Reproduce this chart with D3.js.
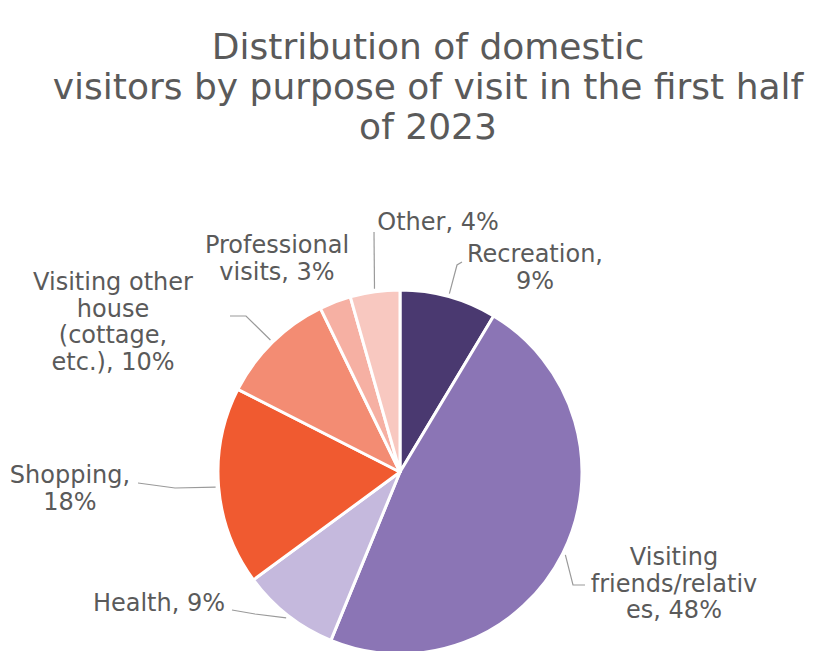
<!DOCTYPE html>
<html><head><meta charset="utf-8">
<script src="https://cdn.jsdelivr.net/npm/d3@7"></script>
<style>
body{margin:0;background:#fff}
svg{display:block}
text{font-family:"DejaVu Sans",sans-serif;fill:#5a5a5a}
</style>
</head><body><script>
// ---- data ----
const categories = ["Recreation","Visiting friends/relatives","Health","Shopping","Visiting other house (cottage, etc.)","Professional visits","Other"];
const values = [8.6, 47.6, 8.7, 17.6, 10.3, 2.8, 4.4];
const colors = ["#4a3970","#8b75b5","#c5b9dd","#f05a30","#f38c73","#f6b0a3","#f8c8c0"];
const titleLines = ["Distribution of domestic","visitors by purpose of visit in the first half","of 2023"];
const labelWraps = [["Recreation,","{p}%"],["Visiting","friends/relativ","es, {p}%"],["Health, {p}%"],["Shopping,","{p}%"],["Visiting other","house","(cottage,","etc.), {p}%"],["Professional","visits, {p}%"],["Other, {p}%"]];

// ---- layout ----
const W = 815, H = 651;
const cx = 400, cy = 472, R = 182;
const labelPos = [[535,262],[674,565],[159,611],[70,483],[113,290],[277,253],[438,230]];
const leaderPts = [[[457,265],[462,262]],[[573,585],[585,585]],[[255,614],[232,610]],[[175,488],[138,483]],[[246,316],[230,316]],null,[[374,232]]];

const svg = d3.select("body").append("svg").attr("width",W).attr("height",H);
svg.append("rect").attr("width",W).attr("height",H).attr("fill","#fff");

// title
svg.append("g").selectAll("text").data(titleLines).join("text")
  .attr("x",428).attr("y",(d,i)=>59+i*40)
  .attr("text-anchor","middle").attr("font-size",36).attr("fill","#5e5e5e")
  .text(d=>d);

const pie = d3.pie().sort(null).value(d=>d);
const arcs = pie(values);
const arc = d3.arc().innerRadius(0).outerRadius(R);
const outer = d3.arc().innerRadius(R+3).outerRadius(R+3);

const g = svg.append("g").attr("transform",`translate(${cx},${cy})`);
g.selectAll("path").data(arcs).join("path")
  .attr("d",arc).attr("fill",(d,i)=>colors[i])
  .attr("stroke","#fff").attr("stroke-width",3).attr("stroke-linejoin","round");

// leaders
const line = d3.line();
arcs.forEach((a,i)=>{
  if(!leaderPts[i]) return;
  const c = outer.centroid(a);
  const pts = [[c[0]+cx,c[1]+cy]].concat(leaderPts[i]);
  svg.append("path").attr("d",line(pts)).attr("fill","none")
    .attr("stroke","#9a9a9a").attr("stroke-width",1.2);
});

// labels
arcs.forEach((a,i)=>{
  const p = Math.round(values[i]);
  const t = svg.append("text").attr("text-anchor","middle").attr("font-size",24);
  labelWraps[i].forEach((ln,j)=>{
    t.append("tspan").attr("x",labelPos[i][0]).attr("y",labelPos[i][1]+j*26.5)
      .text(ln.replace("{p}",p));
  });
});
</script></body></html>
